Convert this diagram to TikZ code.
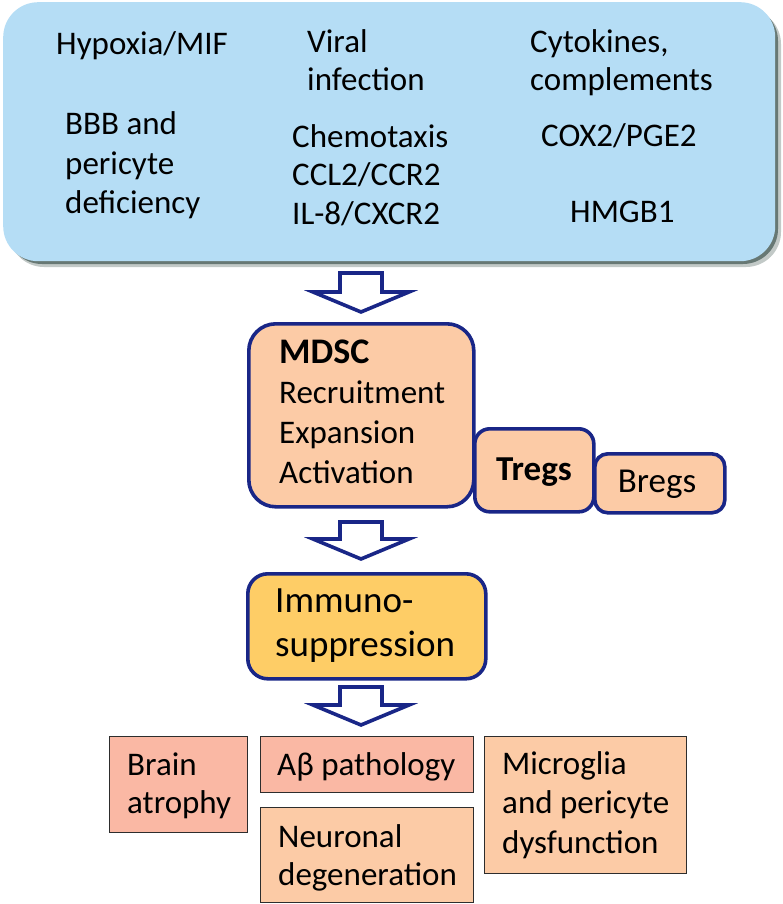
\documentclass[tikz,border=0pt]{standalone}
\usepackage{fontspec}
\setmainfont{Carlito}
\usetikzlibrary{calc}
\definecolor{topblue}{RGB}{181,221,245}
\definecolor{shadowc}{RGB}{80,100,95}
\definecolor{navy}{RGB}{25,38,135}
\definecolor{peach}{RGB}{252,203,166}
\definecolor{gold}{RGB}{254,205,102}
\definecolor{salmon}{RGB}{250,184,164}
\definecolor{edgec}{RGB}{45,45,45}
\begin{document}
\begin{tikzpicture}[x=1pt,y=-1pt,
  txt/.style={font=\fontsize{33}{38}\selectfont, align=left, inner sep=0pt, anchor=base west, text=black},
  ctxt/.style={txt, anchor=base},
  roundbox/.style={draw=navy, line width=3.6pt, fill=peach, anchor=north west, inner sep=0pt},
  effbox/.style={draw=edgec, line width=1.4pt, anchor=north west, inner sep=0pt},
  blockarrow/.style={draw=navy, fill=white, line width=3.6pt, line join=miter}
]
\useasboundingbox (0,0) rectangle (783,904);

% top box with shadow
\fill[shadowc, opacity=0.35, rounded corners=35pt] (9,9) rectangle (781,267);
\fill[shadowc, opacity=0.8, rounded corners=35pt] (7,6) rectangle (778,264);
\node[fill=topblue, rounded corners=35pt, anchor=north west, inner sep=0pt,
      minimum width=772pt, minimum height=259pt] (top) at (3,2) {};

% multi-line nodes: base = baseline of the last line
\node[txt] (hyp) at (56,55) {Hypoxia/MIF};
\node[txt] (vir) at (307,91) {Viral\\infection};
\node[txt] (cyt) at (530,91) {Cytokines,\\complements};
\node[txt, font=\fontsize{33}{39}\selectfont] (bbb) at (65,213) {BBB and\\pericyte\\deficiency};
\node[txt, font=\fontsize{33}{38.5}\selectfont] (che) at (292,224) {Chemotaxis\\CCL2/CCR2\\IL-8/CXCR2};
\node[txt] (cox) at (541,147) {COX2/PGE2};
\node[txt] (hmg) at (570,222) {HMGB1};

% MDSC group
\node[roundbox, rounded corners=27pt, minimum width=225pt, minimum height=183pt] (mdsc) at (247,322) {};
\node[txt, font=\fontsize{33}{40}\selectfont] (mdsct) at (279,483)
  {{\fontsize{36}{40}\selectfont\bfseries MDSC}\\Recruitment\\Expansion\\Activation};
\node[roundbox, rounded corners=15pt, minimum width=119pt, minimum height=83pt] (tregs) at (473,427) {};
\node[ctxt, font=\fontsize{35}{40}\selectfont\bfseries] (tregst) at (534,480) {Tregs};
\node[roundbox, rounded corners=13pt, minimum width=130pt, minimum height=59pt] (bregs) at (593,452) {};
\node[ctxt, font=\fontsize{35}{40}\selectfont] (bregst) at (657,492) {Bregs};

% Immunosuppression
\node[roundbox, fill=gold, rounded corners=20pt, minimum width=238pt, minimum height=105pt] (imm) at (246,572) {};
\node[txt, font=\fontsize{37}{44}\selectfont] (immt) at (275,656) {Immuno-\\suppression};

% effects
\node[effbox, fill=salmon, minimum width=138pt, minimum height=96pt] (brain) at (109,736) {};
\node[txt] (braint) at (127,813) {Brain\\atrophy};
\node[effbox, fill=salmon, minimum width=213pt, minimum height=56pt] (abeta) at (260,736) {};
\node[txt] (abetat) at (277,775) {Aβ pathology};
\node[effbox, fill=peach, minimum width=213pt, minimum height=95pt] (neur) at (260,807) {};
\node[txt] (neurt) at (278,885) {Neuronal\\degeneration};
\node[effbox, fill=peach, minimum width=202pt, minimum height=137pt] (micro) at (484,736) {};
\node[txt, font=\fontsize{33}{39.5}\selectfont] (microt) at (502,853) {Microglia\\and pericyte\\dysfunction};

% block arrows between named coordinates
\newcommand{\blockarrow}[3]{% top coordinate, head-base y offset, tip coordinate
  \draw[blockarrow] ($(#1)+(-21,0)$) -- ($(#1)+(21,0)$) -- ($(#1)+(21,#2)$) -- ($(#1)+(48,#2)$)
    -- (#3) -- ($(#1)+(-48,#2)$) -- ($(#1)+(-21,#2)$) -- cycle;}
\coordinate (a1s) at (361,273); \coordinate (a1e) at (361,312);
\coordinate (a2s) at (361,522); \coordinate (a2e) at (361,559);
\coordinate (a3s) at (361,687); \coordinate (a3e) at (361,725);
\blockarrow{a1s}{19}{a1e}
\blockarrow{a2s}{17}{a2e}
\blockarrow{a3s}{18}{a3e}
\end{tikzpicture}
\end{document}
